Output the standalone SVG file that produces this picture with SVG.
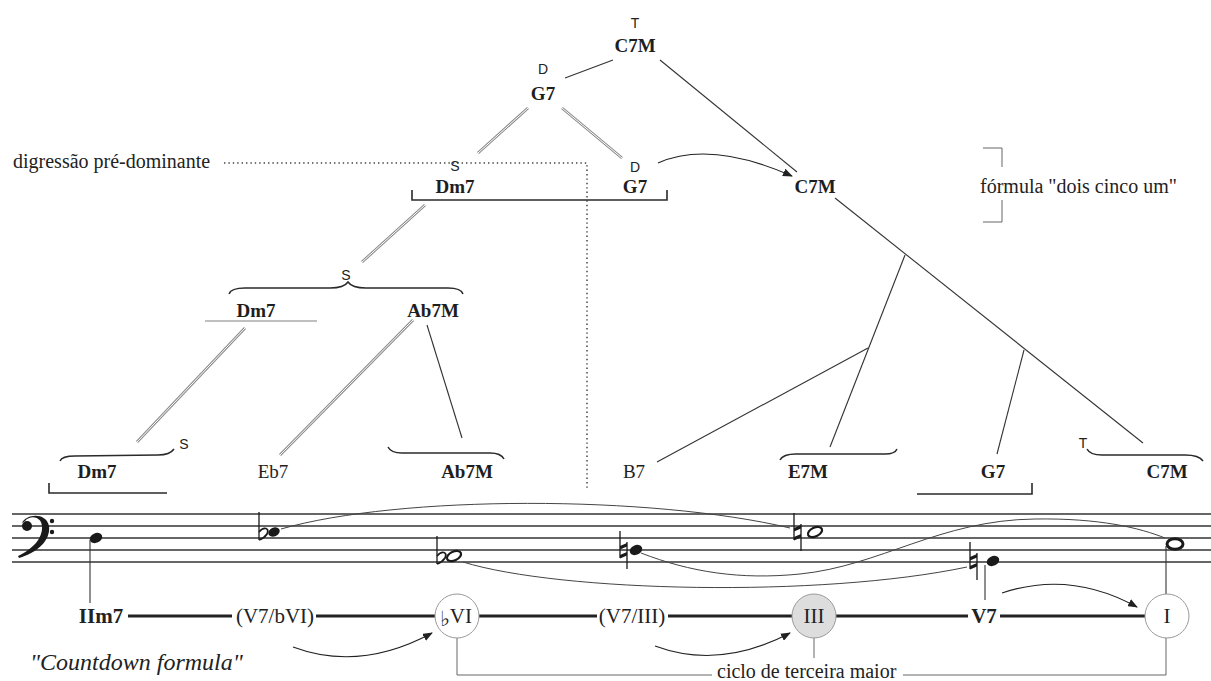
<svg xmlns="http://www.w3.org/2000/svg" width="1211" height="681" viewBox="0 0 1211 681">
<defs>
<style>
.ch{font-family:"Liberation Serif",serif;font-size:19px;font-weight:bold;fill:#1e1e1e;text-anchor:middle}
.chr{font-family:"Liberation Serif",serif;font-size:19px;fill:#1e1e1e;text-anchor:middle}
.fn{font-family:"Liberation Sans",sans-serif;font-size:14px;fill:#222;text-anchor:middle}
.txt{font-family:"Liberation Serif",serif;font-size:20px;fill:#222}
.cd{font-family:"Liberation Serif",serif;font-size:24px;font-style:italic;fill:#222}
.rn{font-family:"Liberation Serif",serif;font-size:21px;fill:#222;text-anchor:middle}
.ln{stroke:#333;stroke-width:1.1;fill:none}
.dbo{stroke:#8c8c8c;stroke-width:2.8;fill:none}
.dbi{stroke:#fff;stroke-width:1;fill:none}
.brk{stroke:#2a2a2a;stroke-width:1.6;fill:none}
.brace{stroke:#2a2a2a;stroke-width:1.5;fill:none}
.dot{stroke:#444;stroke-width:1.5;stroke-dasharray:1.4 3;fill:none}
.staff{stroke:#333;stroke-width:1.3}
.slur{stroke:#444;stroke-width:1;fill:none}
.arr{stroke:#222;stroke-width:1.1;fill:none;marker-end:url(#ah)}
.thick{stroke:#222;stroke-width:3}
.circ{stroke:#999;stroke-width:1;fill:#fff}
.gl{stroke:#666;stroke-width:1;fill:none}
.head{fill:#1a1a1a}
.open{fill:none;stroke:#1a1a1a;stroke-width:2.2}
</style>
<marker id="ah" markerWidth="10" markerHeight="8" refX="9" refY="4" orient="auto" markerUnits="userSpaceOnUse">
<path d="M0,0 L10,4 L0,8 Z" fill="#222"/>
</marker>
<!-- accidentals drawn around the note's line (y = 0) -->
<g id="flat">
<path d="M0,-20 V8" stroke="#1a1a1a" stroke-width="1.3" fill="none"/>
<path d="M0,0 C5,-6 11,-4 8,2 C6,5 3,7 0,8" stroke="#1a1a1a" stroke-width="1.8" fill="none"/>
</g>
<g id="natural">
<path d="M0,-19 V8 M7,-8 V19" stroke="#1a1a1a" stroke-width="1.3" fill="none"/>
<polygon points="0,-4 7,-7 7,-3.5 0,-0.5" fill="#1a1a1a"/>
<polygon points="0,5 7,2 7,5.5 0,8.5" fill="#1a1a1a"/>
</g>
</defs>

<rect width="1211" height="681" fill="#fff"/>

<!-- tree connectors -->
<g id="connectors">
<line class="ln" x1="613" y1="60" x2="565" y2="78"/>
<line class="ln" x1="660" y1="60" x2="797" y2="172"/>
<line class="dbo" x1="528" y1="108" x2="478" y2="153"/><line class="dbi" x1="528" y1="108" x2="478" y2="153"/>
<line class="dbo" x1="562" y1="108" x2="622" y2="158"/><line class="dbi" x1="562" y1="108" x2="622" y2="158"/>
<line class="dbo" x1="425" y1="205" x2="362" y2="262"/><line class="dbi" x1="425" y1="205" x2="362" y2="262"/>
<line class="dbo" x1="245" y1="328" x2="137" y2="442"/><line class="dbi" x1="245" y1="328" x2="137" y2="442"/>
<line class="dbo" x1="413" y1="320" x2="280" y2="455"/><line class="dbi" x1="413" y1="320" x2="280" y2="455"/>
<line class="ln" x1="427" y1="325" x2="462" y2="438"/>
<line class="ln" x1="835" y1="198" x2="1143" y2="443"/>
<line class="ln" x1="905" y1="255" x2="830" y2="447"/>
<line class="ln" x1="868" y1="348" x2="657" y2="462"/>
<line class="ln" x1="1024" y1="350" x2="997" y2="454"/>
<path class="arr" d="M658,163 Q710,140 792,176"/>
<!-- digression guide -->
<path class="dot" d="M224,163 H587 V488"/>
<!-- brackets and braces -->
<path class="brk" d="M412,190 V200 H667 V190"/>
<path class="brk" d="M49,483 V493 H167"/>
<path class="brk" d="M917,494 H1032 V483"/>
<line x1="205" y1="321" x2="317" y2="321" stroke="#aaa" stroke-width="1.4"/>
<path class="gl" d="M983,148 H1002 V167 M1002,200 V222 H983"/>
<path class="brace" d="M229,294 Q231,288 245,288 L330,288 Q344,288 348,282 Q352,288 366,288 L448,288 Q461,288 463,294"/>
<path class="brace" d="M60,461 Q62,456 75,456 L158,455 Q170,455 174,449"/>
<path class="brace" d="M388,447 Q391,453 402,453 L490,453 Q501,453 504,459"/>
<path class="brace" d="M780,460 Q783,454 796,454 L885,454 Q895,454 897,449"/>
<path class="brace" d="M1087,449 Q1090,455 1102,455 L1185,455 Q1199,455 1203,461"/>
</g>

<!-- tree nodes -->
<g id="n-root"><text class="fn" x="635" y="28">T</text><text class="ch" x="635" y="52">C7M</text></g>
<g id="n-g7-top"><text class="fn" x="543" y="74">D</text><text class="ch" x="543" y="100">G7</text></g>
<g id="n-dm7-s"><text class="fn" x="455" y="171">S</text><text class="ch" x="455" y="193">Dm7</text></g>
<g id="n-g7-d"><text class="fn" x="635" y="172">D</text><text class="ch" x="635" y="193">G7</text></g>
<g id="n-c7m-mid"><text class="ch" x="815" y="193">C7M</text></g>
<g id="n-digressao"><text class="txt" x="13" y="168">digressão pré-dominante</text></g>
<g id="n-formula"><text class="txt" x="980" y="193">fórmula "dois cinco um"</text></g>
<g id="n-s-brace"><text class="fn" x="346" y="280">S</text></g>
<g id="n-dm7-mid"><text class="ch" x="256" y="317">Dm7</text></g>
<g id="n-ab7m-mid"><text class="ch" x="433" y="317">Ab7M</text></g>
<g id="n-s-low"><text class="fn" x="184" y="449">S</text></g>
<g id="n-dm7-low"><text class="ch" x="97" y="478">Dm7</text></g>
<g id="n-eb7"><text class="chr" x="273" y="478">Eb7</text></g>
<g id="n-ab7m-low"><text class="ch" x="467" y="478">Ab7M</text></g>
<g id="n-b7"><text class="chr" x="634" y="478">B7</text></g>
<g id="n-e7m"><text class="ch" x="808" y="478">E7M</text></g>
<g id="n-g7-low"><text class="ch" x="993" y="478">G7</text></g>
<g id="n-t-low"><text class="fn" x="1083" y="448">T</text></g>
<g id="n-c7m-low"><text class="ch" x="1167" y="478">C7M</text></g>

<!-- bass staff -->
<g id="staff">
<line class="staff" x1="12" y1="514" x2="1211" y2="514"/>
<line class="staff" x1="12" y1="526" x2="1211" y2="526"/>
<line class="staff" x1="12" y1="538" x2="1211" y2="538"/>
<line class="staff" x1="12" y1="550" x2="1211" y2="550"/>
<line class="staff" x1="12" y1="562" x2="1211" y2="562"/>
<!-- F clef -->
<path d="M22,523 C26,514 46,512 49,526 C51,541 36,553 19,558 L18,556 C33,549 43,538 42,526 C41,516 30,515 25,521 Z" fill="#1a1a1a"/>
<circle cx="27" cy="526" r="5" fill="#1a1a1a"/>
<circle cx="52" cy="521" r="2.2" fill="#1a1a1a"/>
<circle cx="52" cy="532" r="2.2" fill="#1a1a1a"/>
<!-- slurs -->
<path class="slur" d="M281,529 C400,495 650,495 790,528"/>
<path class="slur" d="M463,562 C560,592 820,598 967,567"/>
<path class="slur" d="M641,553 C690,572 740,580 800,574 C880,566 940,520 1035,519 C1100,518 1140,528 1165,538"/>
</g>

<g id="note-d"><ellipse class="head" cx="96" cy="538" rx="6.5" ry="4.8" transform="rotate(-25 96 538)"/><line class="ln" x1="90" y1="540" x2="90" y2="603"/></g>
<g id="note-eb"><use href="#flat" x="259" y="532"/><ellipse class="head" cx="274" cy="532" rx="6" ry="4.3" transform="rotate(-25 274 532)"/></g>
<g id="note-ab"><use href="#flat" x="437" y="556"/><ellipse class="open" cx="454" cy="556" rx="7.5" ry="4.3" transform="rotate(-25 454 556)"/></g>
<g id="note-b"><use href="#natural" x="620" y="550"/><ellipse class="head" cx="636" cy="550" rx="6.5" ry="4.8" transform="rotate(-25 636 550)"/></g>
<g id="note-e"><use href="#natural" x="794" y="532"/><ellipse class="open" cx="815" cy="532" rx="7.5" ry="4.3" transform="rotate(-25 815 532)"/></g>
<g id="note-g"><use href="#natural" x="970" y="561"/><ellipse class="head" cx="993" cy="561" rx="6.5" ry="4.8" transform="rotate(-25 993 561)"/><line class="ln" x1="985" y1="565" x2="985" y2="600"/></g>
<g id="note-c"><ellipse cx="1175" cy="544" rx="8" ry="5.3" fill="none" stroke="#1a1a1a" stroke-width="3"/><line class="ln" x1="1166" y1="546" x2="1166" y2="594"/></g>

<!-- roman numeral line -->
<g id="rn-line">
<line class="thick" x1="128" y1="616" x2="232" y2="616"/>
<line class="thick" x1="316" y1="616" x2="435" y2="616"/>
<line class="thick" x1="479" y1="616" x2="597" y2="616"/>
<line class="thick" x1="668" y1="616" x2="792" y2="616"/>
<line class="thick" x1="836" y1="616" x2="968" y2="616"/>
<line class="thick" x1="1000" y1="616" x2="1145" y2="616"/>
<path class="gl" d="M457,638 V675 H712"/>
<path class="gl" d="M814,638 V658"/>
<path class="gl" d="M1166,638 V675 H903"/>
<path class="arr" d="M293,647 Q360,672 432,633"/>
<path class="arr" d="M655,646 Q720,670 790,633"/>
<path class="arr" d="M1002,593 Q1070,570 1137,607"/>
</g>
<g id="rn-iim7"><text class="rn" x="101" y="623" font-weight="bold">IIm7</text></g>
<g id="rn-v7-bvi"><text class="rn" x="275" y="623">(V7/bVI)</text></g>
<g id="rn-bvi"><circle class="circ" cx="457" cy="616" r="22"/><text class="rn" x="456" y="623"><tspan font-family="DejaVu Sans, sans-serif" font-size="21" dy="3">♭</tspan><tspan dy="-3">VI</tspan></text></g>
<g id="rn-v7-iii"><text class="rn" x="632" y="623">(V7/III)</text></g>
<g id="rn-iii"><circle cx="814" cy="616" r="22" fill="#ddd" stroke="#999" stroke-width="1"/><text class="rn" x="814" y="623">III</text></g>
<g id="rn-v7"><text class="rn" x="984" y="623" font-weight="bold">V7</text></g>
<g id="rn-i"><circle class="circ" cx="1167" cy="616" r="22"/><text class="rn" x="1167" y="623">I</text></g>
<g id="lbl-ciclo"><text class="txt" x="717" y="678">ciclo de terceira maior</text></g>
<g id="lbl-countdown"><text class="cd" x="30" y="670">"Countdown formula"</text></g>
</svg>
